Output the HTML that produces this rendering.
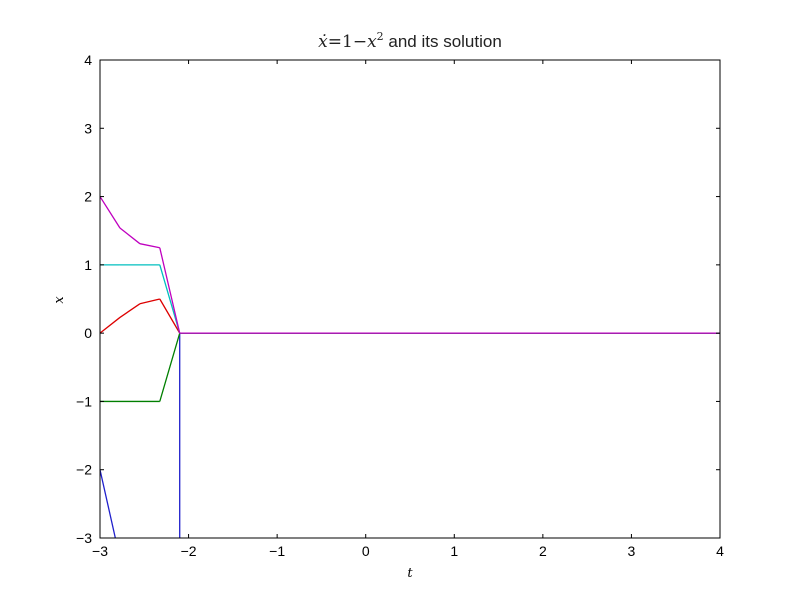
<!DOCTYPE html>
<html><head><meta charset="utf-8"><style>
html,body{margin:0;padding:0;background:#fff;width:800px;height:600px;overflow:hidden;}
svg{display:block;font-family:"Liberation Sans",sans-serif;}
</style></head><body>
<svg id="chart" width="800" height="600" viewBox="0 0 800 600">
<rect width="800" height="600" fill="#fff"/>
<g id="marks"></g>
<g id="axes"></g>
<text x="410" y="47" text-anchor="middle" font-size="17" fill="#222"><tspan font-family="DejaVu Serif,serif" font-style="italic">ẋ</tspan><tspan font-family="DejaVu Serif,serif">=1−</tspan><tspan font-family="DejaVu Serif,serif" font-style="italic">x</tspan><tspan font-family="DejaVu Serif,serif" font-size="11" dy="-7">2</tspan><tspan dy="7"> and its solution</tspan></text>
<text x="410" y="577" text-anchor="middle" font-size="13" font-style="italic" font-family="DejaVu Serif,serif">t</text>
<text x="63" y="300" text-anchor="middle" font-size="13" font-style="italic" font-family="DejaVu Serif,serif" transform="rotate(-90 63 300)">x</text>
</svg>
<script>
const tValues=[-3,-2.775,-2.55,-2.325,-2.1,4];
const seriesBlue=[-2,-3.3,-1000,-100000,0,0];
const seriesGreen=[-1,-1,-1,-1,0,0];
const seriesRed=[0,0.23,0.43,0.5,0,0];
const seriesCyan=[1,1,1,1,0,0];
const seriesMagenta=[2,1.54,1.31,1.25,0,0];
const xTicks=[-3,-2,-1,0,1,2,3,4];
const yTicks=[-3,-2,-1,0,1,2,3,4];
const X0=100,X1=720,Y0=538,Y1=60;
const sx=t=>X0+(t+3)/7*(X1-X0);
const sy=v=>Y0-(v+3)/7*(Y0-Y1);
const NS='http://www.w3.org/2000/svg';
const marks=document.getElementById('marks'),axes=document.getElementById('axes');
function mk(tag,attrs,parent){const e=document.createElementNS(NS,tag);for(const k in attrs)e.setAttribute(k,attrs[k]);parent.appendChild(e);return e;}
function clipSeg(x1,y1,x2,y2){
  const lo=Y1,hi=Y0;
  if((y1<lo&&y2<lo)||(y1>hi&&y2>hi))return null;
  const f=(y)=>x1+(x2-x1)*(y-y1)/(y2-y1);
  let a=[x1,y1],b=[x2,y2];
  if(y1<lo)a=[f(lo),lo]; if(y1>hi)a=[f(hi),hi];
  if(y2<lo)b=[f(lo),lo]; if(y2>hi)b=[f(hi),hi];
  return [a,b];
}
function buildPath(vals){
  let d='';
  for(let i=0;i<vals.length-1;i++){
    const s=clipSeg(sx(tValues[i]),sy(vals[i]),sx(tValues[i+1]),sy(vals[i+1]));
    if(s)d+='M'+s[0][0].toFixed(2)+','+s[0][1].toFixed(2)+'L'+s[1][0].toFixed(2)+','+s[1][1].toFixed(2);
  }
  return d;
}
const series=[[seriesBlue,'#2020cc','series-blue'],[seriesGreen,'#007f00','series-green'],[seriesRed,'#dd0000','series-red'],[seriesCyan,'#00bfbf','series-cyan'],[seriesMagenta,'#bf00bf','series-magenta']];
series.forEach(([vals,c,n])=>{
  const p=mk('path',{d:buildPath(vals),fill:'none',stroke:c,'stroke-width':1.3,'stroke-linejoin':'round'},marks);
  
  
});
const frame=mk('rect',{x:X0,y:Y1,width:X1-X0,height:Y0-Y1,fill:'none',stroke:'#000','stroke-width':1},axes);


xTicks.forEach(t=>{
  const x=sx(t);
  mk('line',{x1:x,x2:x,y1:Y0,y2:Y0-4,stroke:'#000'},axes);
  mk('line',{x1:x,x2:x,y1:Y1,y2:Y1+4,stroke:'#000'},axes);
  const tx=mk('text',{x:x,y:Y0+18,'text-anchor':'middle','font-size':14},axes);
  tx.textContent=(t<0?'−'+(-t):t);
  
  
});
yTicks.forEach(v=>{
  const y=sy(v);
  mk('line',{x1:X0,x2:X0+4,y1:y,y2:y,stroke:'#000'},axes);
  mk('line',{x1:X1,x2:X1-4,y1:y,y2:y,stroke:'#000'},axes);
  const tx=mk('text',{x:X0-8,y:y+5,'text-anchor':'end','font-size':14},axes);
  tx.textContent=(v<0?'−'+(-v):v);
  
  
});
</script>
</body></html>
